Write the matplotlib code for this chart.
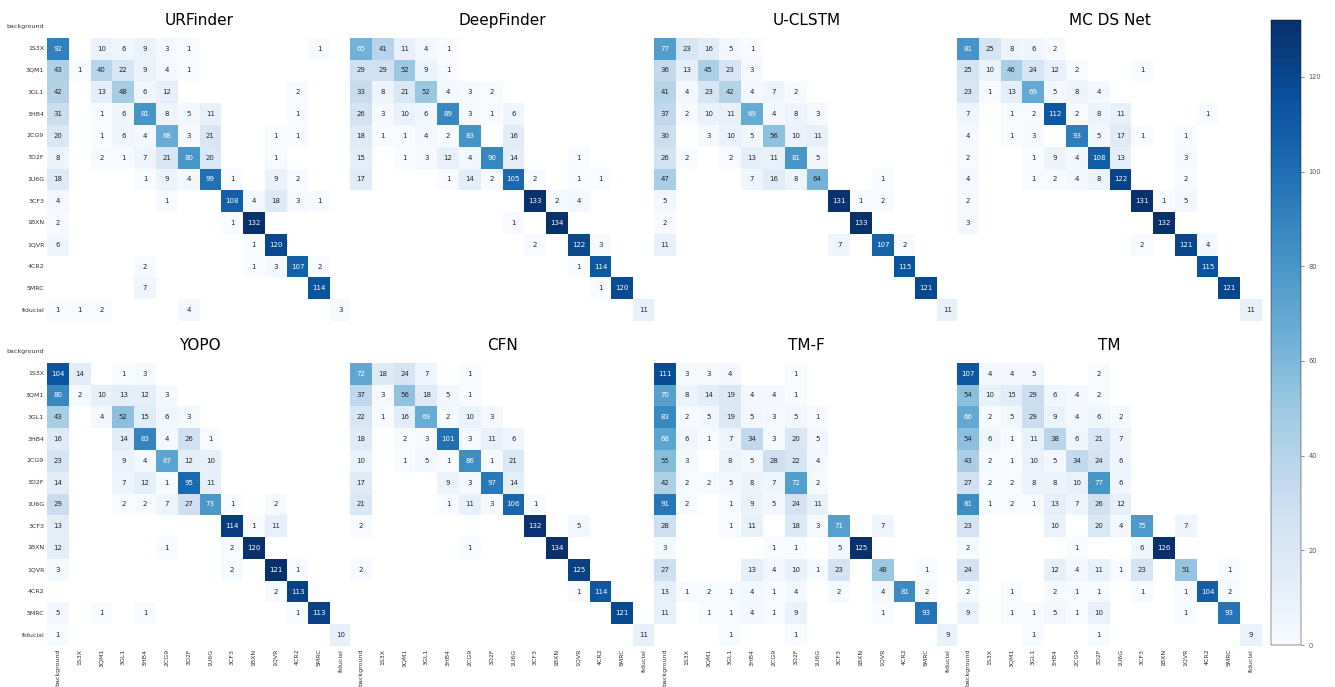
import numpy as np
import matplotlib.pyplot as plt
import seaborn as sns
from matplotlib.colors import Normalize
from matplotlib.cm import ScalarMappable

labels = ["background", "1S3X", "3QM1", "3GL1", "3HB4", "2CG9", "3D2F",
          "1U6G", "3CF3", "1BXN", "1QVR", "4CR2", "5MRC", "fiducial"]

urfinder = [
    [0, 0, 0, 0, 0, 0, 0, 0, 0, 0, 0, 0, 0, 0],
    [92, 0, 10, 6, 9, 3, 1, 0, 0, 0, 0, 0, 1, 0],
    [43, 1, 40, 22, 9, 4, 1, 0, 0, 0, 0, 0, 0, 0],
    [42, 0, 13, 48, 6, 12, 0, 0, 0, 0, 0, 2, 0, 0],
    [31, 0, 1, 6, 81, 8, 5, 11, 0, 0, 0, 1, 0, 0],
    [20, 0, 1, 6, 4, 68, 3, 21, 0, 0, 1, 1, 0, 0],
    [8, 0, 2, 1, 7, 21, 80, 20, 0, 0, 1, 0, 0, 0],
    [18, 0, 0, 0, 1, 9, 4, 99, 1, 0, 9, 2, 0, 0],
    [4, 0, 0, 0, 0, 1, 0, 0, 108, 4, 18, 3, 1, 0],
    [2, 0, 0, 0, 0, 0, 0, 0, 1, 132, 0, 0, 0, 0],
    [6, 0, 0, 0, 0, 0, 0, 0, 0, 1, 120, 0, 0, 0],
    [0, 0, 0, 0, 2, 0, 0, 0, 0, 1, 3, 107, 2, 0],
    [0, 0, 0, 0, 7, 0, 0, 0, 0, 0, 0, 0, 114, 0],
    [1, 1, 2, 0, 0, 0, 4, 0, 0, 0, 0, 0, 0, 3],
]

deepfinder = [
    [0, 0, 0, 0, 0, 0, 0, 0, 0, 0, 0, 0, 0, 0],
    [65, 41, 11, 4, 1, 0, 0, 0, 0, 0, 0, 0, 0, 0],
    [29, 29, 52, 9, 1, 0, 0, 0, 0, 0, 0, 0, 0, 0],
    [33, 8, 21, 52, 4, 3, 2, 0, 0, 0, 0, 0, 0, 0],
    [26, 3, 10, 6, 89, 3, 1, 6, 0, 0, 0, 0, 0, 0],
    [18, 1, 1, 4, 2, 83, 0, 16, 0, 0, 0, 0, 0, 0],
    [15, 0, 1, 3, 12, 4, 90, 14, 0, 0, 1, 0, 0, 0],
    [17, 0, 0, 0, 1, 14, 2, 105, 2, 0, 1, 1, 0, 0],
    [0, 0, 0, 0, 0, 0, 0, 0, 133, 2, 4, 0, 0, 0],
    [0, 0, 0, 0, 0, 0, 0, 1, 0, 134, 0, 0, 0, 0],
    [0, 0, 0, 0, 0, 0, 0, 0, 2, 0, 122, 3, 0, 0],
    [0, 0, 0, 0, 0, 0, 0, 0, 0, 0, 1, 114, 0, 0],
    [0, 0, 0, 0, 0, 0, 0, 0, 0, 0, 0, 1, 120, 0],
    [0, 0, 0, 0, 0, 0, 0, 0, 0, 0, 0, 0, 0, 11],
]

uclstm = [
    [0, 0, 0, 0, 0, 0, 0, 0, 0, 0, 0, 0, 0, 0],
    [77, 23, 16, 5, 1, 0, 0, 0, 0, 0, 0, 0, 0, 0],
    [36, 13, 45, 23, 3, 0, 0, 0, 0, 0, 0, 0, 0, 0],
    [41, 4, 23, 42, 4, 7, 2, 0, 0, 0, 0, 0, 0, 0],
    [37, 2, 10, 11, 69, 4, 8, 3, 0, 0, 0, 0, 0, 0],
    [30, 0, 3, 10, 5, 56, 10, 11, 0, 0, 0, 0, 0, 0],
    [26, 2, 0, 2, 13, 11, 81, 5, 0, 0, 0, 0, 0, 0],
    [47, 0, 0, 0, 7, 16, 8, 64, 0, 0, 1, 0, 0, 0],
    [5, 0, 0, 0, 0, 0, 0, 0, 131, 1, 2, 0, 0, 0],
    [2, 0, 0, 0, 0, 0, 0, 0, 0, 133, 0, 0, 0, 0],
    [11, 0, 0, 0, 0, 0, 0, 0, 7, 0, 107, 2, 0, 0],
    [0, 0, 0, 0, 0, 0, 0, 0, 0, 0, 0, 115, 0, 0],
    [0, 0, 0, 0, 0, 0, 0, 0, 0, 0, 0, 0, 121, 0],
    [0, 0, 0, 0, 0, 0, 0, 0, 0, 0, 0, 0, 0, 11],
]

mcdsnet = [
    [0, 0, 0, 0, 0, 0, 0, 0, 0, 0, 0, 0, 0, 0],
    [81, 25, 8, 6, 2, 0, 0, 0, 0, 0, 0, 0, 0, 0],
    [25, 10, 46, 24, 12, 2, 0, 0, 1, 0, 0, 0, 0, 0],
    [23, 1, 13, 69, 5, 8, 4, 0, 0, 0, 0, 0, 0, 0],
    [7, 0, 1, 2, 112, 2, 8, 11, 0, 0, 0, 1, 0, 0],
    [4, 0, 1, 3, 0, 93, 5, 17, 1, 0, 1, 0, 0, 0],
    [2, 0, 0, 1, 9, 4, 108, 13, 0, 0, 3, 0, 0, 0],
    [4, 0, 0, 1, 2, 4, 8, 122, 0, 0, 2, 0, 0, 0],
    [2, 0, 0, 0, 0, 0, 0, 0, 131, 1, 5, 0, 0, 0],
    [3, 0, 0, 0, 0, 0, 0, 0, 0, 132, 0, 0, 0, 0],
    [0, 0, 0, 0, 0, 0, 0, 0, 2, 0, 121, 4, 0, 0],
    [0, 0, 0, 0, 0, 0, 0, 0, 0, 0, 0, 115, 0, 0],
    [0, 0, 0, 0, 0, 0, 0, 0, 0, 0, 0, 0, 121, 0],
    [0, 0, 0, 0, 0, 0, 0, 0, 0, 0, 0, 0, 0, 11],
]

yopo = [
    [0, 0, 0, 0, 0, 0, 0, 0, 0, 0, 0, 0, 0, 0],
    [104, 14, 0, 1, 3, 0, 0, 0, 0, 0, 0, 0, 0, 0],
    [80, 2, 10, 13, 12, 3, 0, 0, 0, 0, 0, 0, 0, 0],
    [43, 0, 4, 52, 15, 6, 3, 0, 0, 0, 0, 0, 0, 0],
    [16, 0, 0, 14, 83, 4, 26, 1, 0, 0, 0, 0, 0, 0],
    [23, 0, 0, 9, 4, 67, 12, 10, 0, 0, 0, 0, 0, 0],
    [14, 0, 0, 7, 12, 1, 95, 11, 0, 0, 0, 0, 0, 0],
    [29, 0, 0, 2, 2, 7, 27, 73, 1, 0, 2, 0, 0, 0],
    [13, 0, 0, 0, 0, 0, 0, 0, 114, 1, 11, 0, 0, 0],
    [12, 0, 0, 0, 0, 1, 0, 0, 2, 120, 0, 0, 0, 0],
    [3, 0, 0, 0, 0, 0, 0, 0, 2, 0, 121, 1, 0, 0],
    [0, 0, 0, 0, 0, 0, 0, 0, 0, 0, 2, 113, 0, 0],
    [5, 0, 1, 0, 1, 0, 0, 0, 0, 0, 0, 1, 113, 0],
    [1, 0, 0, 0, 0, 0, 0, 0, 0, 0, 0, 0, 0, 10],
]

cfn = [
    [0, 0, 0, 0, 0, 0, 0, 0, 0, 0, 0, 0, 0, 0],
    [72, 18, 24, 7, 0, 1, 0, 0, 0, 0, 0, 0, 0, 0],
    [37, 3, 56, 18, 5, 1, 0, 0, 0, 0, 0, 0, 0, 0],
    [22, 1, 16, 69, 2, 10, 3, 0, 0, 0, 0, 0, 0, 0],
    [18, 0, 2, 3, 101, 3, 11, 6, 0, 0, 0, 0, 0, 0],
    [10, 0, 1, 5, 1, 86, 1, 21, 0, 0, 0, 0, 0, 0],
    [17, 0, 0, 0, 9, 3, 97, 14, 0, 0, 0, 0, 0, 0],
    [21, 0, 0, 0, 1, 11, 3, 106, 1, 0, 0, 0, 0, 0],
    [2, 0, 0, 0, 0, 0, 0, 0, 132, 0, 5, 0, 0, 0],
    [0, 0, 0, 0, 0, 1, 0, 0, 0, 134, 0, 0, 0, 0],
    [2, 0, 0, 0, 0, 0, 0, 0, 0, 0, 125, 0, 0, 0],
    [0, 0, 0, 0, 0, 0, 0, 0, 0, 0, 1, 114, 0, 0],
    [0, 0, 0, 0, 0, 0, 0, 0, 0, 0, 0, 0, 121, 0],
    [0, 0, 0, 0, 0, 0, 0, 0, 0, 0, 0, 0, 0, 11],
]

tm_f = [
    [0, 0, 0, 0, 0, 0, 0, 0, 0, 0, 0, 0, 0, 0],
    [111, 3, 3, 4, 0, 0, 1, 0, 0, 0, 0, 0, 0, 0],
    [70, 8, 14, 19, 4, 4, 1, 0, 0, 0, 0, 0, 0, 0],
    [83, 2, 5, 19, 5, 3, 5, 1, 0, 0, 0, 0, 0, 0],
    [68, 6, 1, 7, 34, 3, 20, 5, 0, 0, 0, 0, 0, 0],
    [55, 3, 0, 8, 5, 28, 22, 4, 0, 0, 0, 0, 0, 0],
    [42, 2, 2, 5, 8, 7, 72, 2, 0, 0, 0, 0, 0, 0],
    [91, 2, 0, 1, 9, 5, 24, 11, 0, 0, 0, 0, 0, 0],
    [28, 0, 0, 1, 11, 0, 18, 3, 71, 0, 7, 0, 0, 0],
    [3, 0, 0, 0, 0, 1, 1, 0, 5, 125, 0, 0, 0, 0],
    [27, 0, 0, 0, 13, 4, 10, 1, 23, 0, 48, 0, 1, 0],
    [13, 1, 2, 1, 4, 1, 4, 0, 2, 0, 4, 81, 2, 0],
    [11, 0, 1, 1, 4, 1, 9, 0, 0, 0, 1, 0, 93, 0],
    [0, 0, 0, 1, 0, 0, 1, 0, 0, 0, 0, 0, 0, 9],
]

tm = [
    [0, 0, 0, 0, 0, 0, 0, 0, 0, 0, 0, 0, 0, 0],
    [107, 4, 4, 5, 0, 0, 2, 0, 0, 0, 0, 0, 0, 0],
    [54, 10, 15, 29, 6, 4, 2, 0, 0, 0, 0, 0, 0, 0],
    [66, 2, 5, 29, 9, 4, 6, 2, 0, 0, 0, 0, 0, 0],
    [54, 6, 1, 11, 38, 6, 21, 7, 0, 0, 0, 0, 0, 0],
    [43, 2, 1, 10, 5, 34, 24, 6, 0, 0, 0, 0, 0, 0],
    [27, 2, 2, 8, 8, 10, 77, 6, 0, 0, 0, 0, 0, 0],
    [81, 1, 2, 1, 13, 7, 26, 12, 0, 0, 0, 0, 0, 0],
    [23, 0, 0, 0, 10, 0, 20, 4, 75, 0, 7, 0, 0, 0],
    [2, 0, 0, 0, 0, 1, 0, 0, 6, 126, 0, 0, 0, 0],
    [24, 0, 0, 0, 12, 4, 11, 1, 23, 0, 51, 0, 1, 0],
    [2, 0, 1, 0, 2, 1, 1, 0, 1, 0, 1, 104, 2, 0],
    [9, 0, 1, 1, 5, 1, 10, 0, 0, 0, 1, 0, 93, 0],
    [0, 0, 0, 1, 0, 0, 1, 0, 0, 0, 0, 0, 0, 9],
]

models = [("URFinder", urfinder), ("DeepFinder", deepfinder),
          ("U-CLSTM", uclstm), ("MC DS Net", mcdsnet),
          ("YOPO", yopo), ("CFN", cfn), ("TM-F", tm_f), ("TM", tm)]

W, H = 1335, 687
fig = plt.figure(figsize=(W / 100, H / 100), dpi=100)

# pixel layout of the 2x4 grid of matrices (they touch each other)
lefts = [47, 350, 654, 957]
tops = [16, 341]
size = 305

for k, (name, data) in enumerate(models):
    r, c = divmod(k, 4)
    ax = fig.add_axes([lefts[c] / W, 1 - (tops[r] + size) / H, size / W, size / H])
    cm = np.array(data)
    sns.heatmap(cm, ax=ax, mask=(cm == 0), cmap="Blues", annot=True, fmt="d",
                cbar=False, square=True, xticklabels=labels, yticklabels=labels,
                annot_kws={"fontsize": 5})
    ax.tick_params(length=0, pad=2, labelsize=4.5, labelcolor="#333333")
    if c != 0:
        ax.tick_params(labelleft=False)
    if r == 0:
        ax.tick_params(labelbottom=False)
    else:
        plt.setp(ax.get_xticklabels(), rotation=90)
    plt.setp(ax.get_yticklabels(), rotation=0)
    ax.text(0.5, 0.972, name, transform=ax.transAxes, ha="center",
            va="baseline", fontsize=11)

cax = fig.add_axes([1271 / W, 1 - 645 / H, 30 / W, 625 / H])
sm = ScalarMappable(norm=Normalize(0, 132), cmap="Blues")
cb = fig.colorbar(sm, cax=cax, ticks=[0, 20, 40, 60, 80, 100, 120])
cb.ax.tick_params(labelsize=4.8, labelcolor="#555555", length=2, width=0.5,
                  color="#555555")
cb.outline.set_linewidth(0.3)

fig.savefig("out.png", dpi=100)
